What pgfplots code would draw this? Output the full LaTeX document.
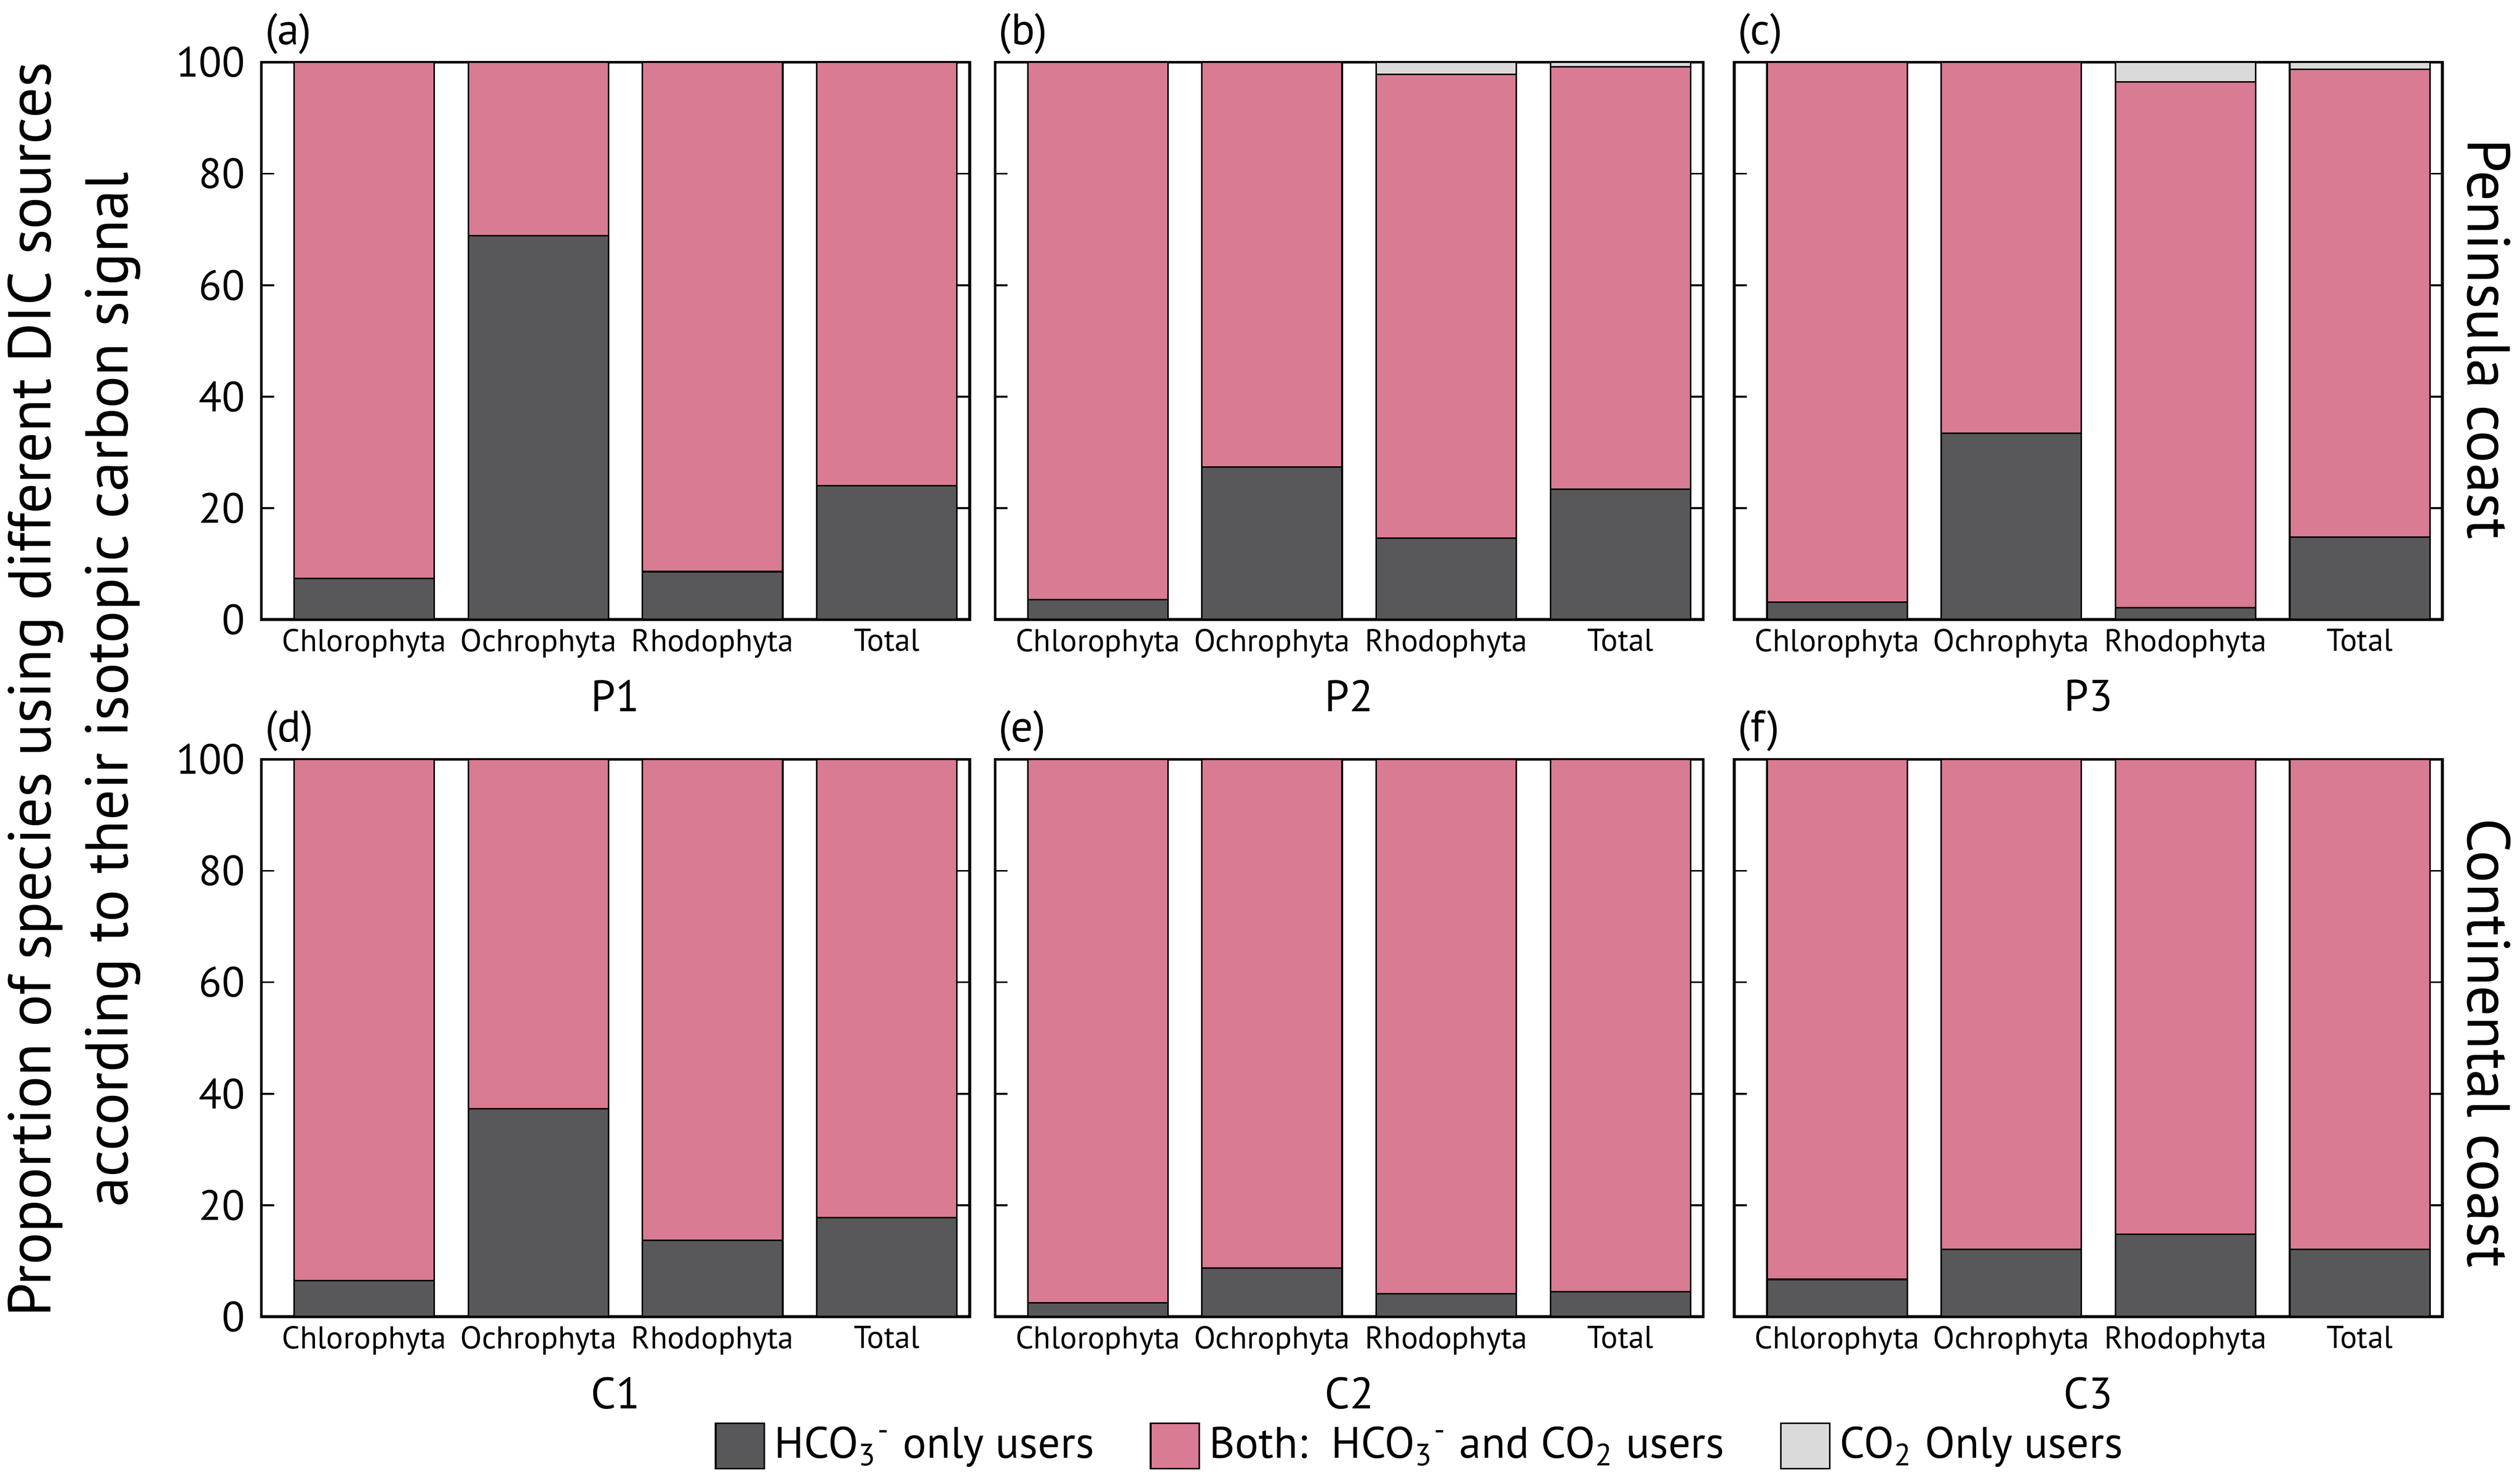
\documentclass[border=0pt]{standalone}
\usepackage{fontspec}
\setmainfont{PT Sans}
\usepackage{pgfplots}
\pgfplotsset{compat=1.18}

\definecolor{hco}{RGB}{88,88,90}
\definecolor{both}{RGB}{217,123,147}
\definecolor{cotwo}{RGB}{218,218,218}

\newcommand{\HCO}{HCO\textsubscript{3}\textsuperscript{-}}
\newcommand{\COtwo}{CO\textsubscript{2}}

\pgfplotsset{
  panel/.style={
    width=152.5pt, height=120pt, scale only axis,
    anchor=south west,
    ybar stacked, bar width=0.805,
    xmin=-0.59, xmax=3.475, ymin=0, ymax=100,
    xtick={0,1,2,3},
    xticklabels={Chlorophyta,Ochrophyta,Rhodophyta,Total},
    xtick style={draw=none},
    ytick={0,20,...,100},
    major tick length=2.7pt,
    tick align=inside,
    axis line style={line width=0.6pt},
    ytick style={line width=0.4pt, black},
    xticklabel style={font=\fontsize{6.8}{8}\selectfont, yshift=1.5pt},
    yticklabel style={font=\fontsize{9.1}{10}\selectfont},
    /pgf/number format/assume math mode=true,
    xlabel style={font=\fontsize{9.5}{11}\selectfont,
      at={(axis description cs:0.5,-0.137)}, anchor=center},
    every axis plot/.append style={draw=black, line width=0.35pt},
  },
  nolabels/.style={yticklabels={}},
}

\begin{document}
\begin{tikzpicture}
\path[use as bounding box] (0,0) rectangle (542.7pt,-318.8pt);

% top row: peninsula coast
\begin{axis}[panel, name=a, at={(56.3pt,-133.4pt)}, xlabel={P1}]
\addplot[fill=hco] coordinates {(0,7.4) (1,68.9) (2,8.6) (3,24.0)};
\addplot[fill=both] coordinates {(0,92.6) (1,31.1) (2,91.4) (3,76.0)};
\end{axis}

\begin{axis}[panel, nolabels, name=b, at={(214.3pt,-133.4pt)}, xlabel={P2}]
\addplot[fill=hco] coordinates {(0,3.6) (1,27.4) (2,14.6) (3,23.4)};
\addplot[fill=both] coordinates {(0,96.4) (1,72.6) (2,83.2) (3,75.8)};
\addplot[fill=cotwo] coordinates {(0,0) (1,0) (2,2.2) (3,0.8)};
\end{axis}

\begin{axis}[panel, nolabels, name=c, at={(373.5pt,-133.4pt)}, xlabel={P3}]
\addplot[fill=hco] coordinates {(0,3.1) (1,33.4) (2,2.1) (3,14.8)};
\addplot[fill=both] coordinates {(0,96.9) (1,66.6) (2,94.4) (3,83.9)};
\addplot[fill=cotwo] coordinates {(0,0) (1,0) (2,3.5) (3,1.3)};
\end{axis}

% bottom row: continental coast
\begin{axis}[panel, name=d, at={(56.3pt,-283.5pt)}, xlabel={C1}]
\addplot[fill=hco] coordinates {(0,6.5) (1,37.3) (2,13.7) (3,17.8)};
\addplot[fill=both] coordinates {(0,93.5) (1,62.7) (2,86.3) (3,82.2)};
\end{axis}

\begin{axis}[panel, nolabels, name=e, at={(214.3pt,-283.5pt)}, xlabel={C2},
  legend columns=3,
  legend style={draw=none, fill=none, inner sep=0pt,
    at={(0.605,-0.232)}, anchor=center,
    font=\fontsize{9.5}{11}\selectfont,
    /tikz/every even column/.append style={column sep=10pt}},
  legend image code/.code={\draw[#1] (0pt,-4.9pt) rectangle (10.5pt,4.9pt);},
]
\addlegendimage{fill=hco, draw=black, line width=0.35pt}
\addlegendimage{fill=both, draw=black, line width=0.35pt}
\addlegendimage{fill=cotwo, draw=black, line width=0.35pt}
\addplot[fill=hco] coordinates {(0,2.5) (1,8.7) (2,4.1) (3,4.5)};
\addplot[fill=both] coordinates {(0,97.5) (1,91.3) (2,95.9) (3,95.5)};
\legend{\HCO{} only users, Both:\ \ \HCO{} and \COtwo{} users, \COtwo{} Only users}
\end{axis}

\begin{axis}[panel, nolabels, name=f, at={(373.5pt,-283.5pt)}, xlabel={C3}]
\addplot[fill=hco] coordinates {(0,6.7) (1,12.1) (2,14.8) (3,12.1)};
\addplot[fill=both] coordinates {(0,93.3) (1,87.9) (2,85.2) (3,87.9)};
\end{axis}

% panel letters
\foreach \p in {a,b,c,d,e,f}
  \node[anchor=base west, inner sep=0pt, font=\fontsize{9.5}{11}\selectfont]
    at ([xshift=0.6pt,yshift=3.8pt]\p.north west) {(\p)};

% row labels
\node[rotate=-90, font=\fontsize{13}{15}\selectfont] at (536pt,-73pt) {Peninsula coast};
\node[rotate=-90, font=\fontsize{13}{15}\selectfont] at (536pt,-224.6pt) {Continental coast};

% shared y label
\node[rotate=90, align=center, font=\fontsize{13}{16.6}\selectfont] at (16pt,-148.5pt)
  {Proportion of species using different DIC sources\\according to their isotopic carbon signal};
\end{tikzpicture}
\end{document}
